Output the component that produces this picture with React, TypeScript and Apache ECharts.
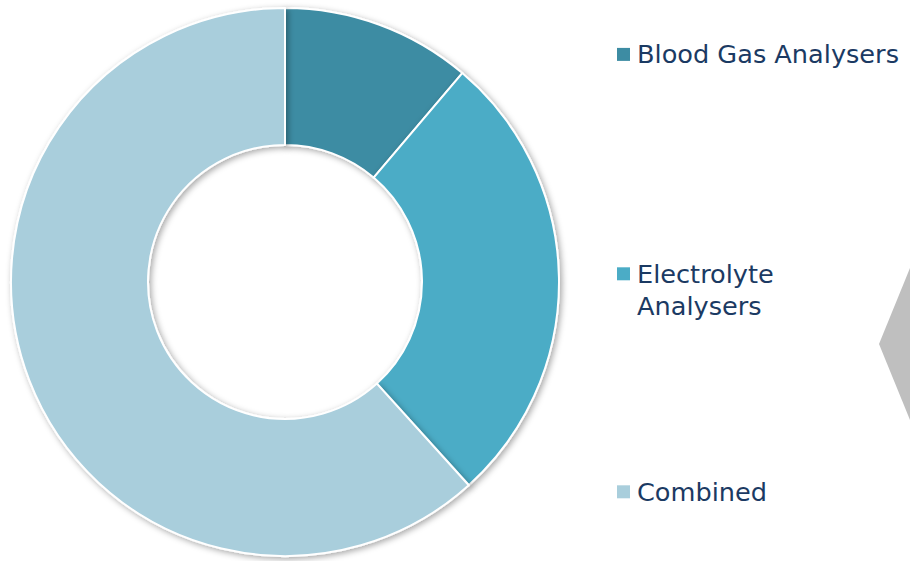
import React, { useEffect, useRef } from "react";
import * as echarts from "echarts";

const categories = ["Blood Gas Analysers", "Electrolyte Analysers", "Combined"];
const legendLabels = ["Blood Gas Analysers", "Electrolyte\nAnalysers", "Combined"];
const shares = [11.2, 27.1, 61.7];
const colors = ["#3D8CA3", "#4BACC6", "#A9CEDC"];
const legendCenters = [54.4, 273.8, 491.8];

export default function App() {
  const ref = useRef<HTMLDivElement>(null);
  useEffect(() => {
    if (!ref.current) return;
    const chart = echarts.init(ref.current, undefined, { renderer: "svg" });
    const legendGraphics: any[] = [];
    categories.forEach((c, i) => {
      const cy = legendCenters[i];
      legendGraphics.push({
        type: "rect",
        shape: { x: 617, y: cy - 6.5, width: 13, height: 13 },
        style: { fill: colors[i] },
      });
      const multi = legendLabels[i].includes("\n");
      legendGraphics.push({
        type: "text",
        x: 637,
        y: multi ? cy - 15.5 : cy,
        style: {
          text: legendLabels[i],
          fill: "#1B3A63",
          font: "25.6px 'DejaVu Sans', Verdana, sans-serif",
          fontSize: 25.6,
          fontFamily: "DejaVu Sans",
          lineHeight: 31.5,
          verticalAlign: multi ? "top" : "middle",
          align: "left",
        },
      });
    });
    chart.setOption({
      animation: false,
      backgroundColor: "#ffffff",
      series: [
        {
          type: "pie",
          center: [285, 282],
          radius: [137, 274],
          startAngle: 90,
          clockwise: true,
          label: { show: false },
          labelLine: { show: false },
          emphasis: { disabled: true },
          itemStyle: {
            borderColor: "#ffffff",
            borderWidth: 2,
            shadowBlur: 6,
            shadowOffsetX: 2,
            shadowOffsetY: 2,
            shadowColor: "rgba(0,0,0,0.35)",
          },
          data: categories.map((c, i) => ({
            name: c,
            value: shares[i],
            itemStyle: { color: colors[i] },
          })),
        },
      ],
      graphic: [
        {
          type: "polygon",
          shape: {
            points: [
              [879, 344],
              [910, 268],
              [950, 268],
              [981, 344],
              [950, 420],
              [910, 420],
            ],
          },
          style: { fill: "#BFBFBF" },
        },
        ...legendGraphics,
      ],
    });
    return () => chart.dispose();
  }, []);
  return (
    <div
      ref={ref}
      style={{ position: "absolute", left: 0, top: 0, width: 910, height: 561 }}
    />
  );
}
